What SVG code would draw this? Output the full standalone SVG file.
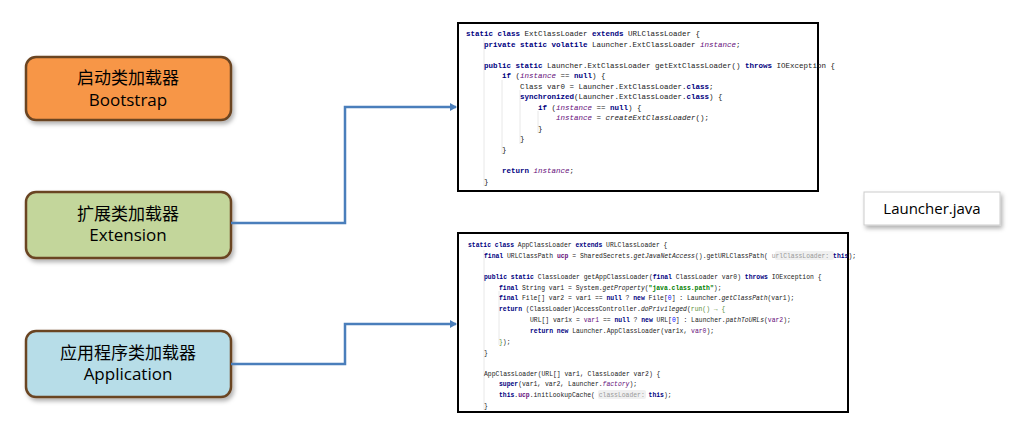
<svg xmlns="http://www.w3.org/2000/svg" width="1015" height="434" viewBox="0 0 1015 434">
<style>
.node{stroke:#6b4423;stroke-width:2.5}
.lbl{font-family:"Open Sans","Noto Sans CJK SC",sans-serif;font-size:17px;fill:#000;text-anchor:middle}
.code{font-family:"Liberation Mono",monospace;font-size:7.5px;fill:#222}
.code2{font-family:"Liberation Mono",monospace;font-size:6.4px;fill:#222}
.k{fill:#000080;font-weight:bold}
.i{fill:#660e7a;font-style:italic}
.s{fill:#008000;font-weight:bold}
.m{font-style:italic}
.h{fill:#999}
.conn{fill:none;stroke:#4a7ebb;stroke-width:2.5}
.box{fill:#fff;stroke:#000;stroke-width:2}
.guide{stroke:#e8e8e8;stroke-width:1}
</style>
<defs>
<marker id="arr" markerWidth="8" markerHeight="8" refX="6" refY="4" orient="auto" markerUnits="userSpaceOnUse"><path d="M0,0 L7,4 L0,8 z" fill="#4a7ebb"/></marker>
<filter id="sh" x="-10%" y="-10%" width="125%" height="135%"><feDropShadow dx="2" dy="3" stdDeviation="2" flood-color="#000" flood-opacity="0.3"/></filter>
</defs>
<rect width="1015" height="434" fill="#fff"/>
<g id="bootstrap"><rect class="node" x="26" y="57" width="205" height="63" rx="10" fill="#f79646" filter="url(#sh)"/><text class="lbl" x="128" y="84">启动类加载器</text><text class="lbl" x="128" y="106">Bootstrap</text></g>
<g id="extension"><rect class="node" x="26" y="192" width="205" height="66" rx="10" fill="#c3d69b" filter="url(#sh)"/><text class="lbl" x="128" y="220">扩展类加载器</text><text class="lbl" x="128" y="241">Extension</text></g>
<g id="application"><rect class="node" x="26" y="331" width="205" height="66" rx="10" fill="#b7dde8" filter="url(#sh)"/><text class="lbl" x="128" y="359">应用程序类加载器</text><text class="lbl" x="128" y="380">Application</text></g>
<g id="connectors">
<path class="conn" d="M231,223 H345 V107 H456" marker-end="url(#arr)"/>
<path class="conn" d="M231,364 H345 V324 H456" marker-end="url(#arr)"/>
</g>
<g id="ext-code">
<rect class="box" x="458" y="23" width="360" height="168"/>
<line class="guide" x1="484" y1="38" x2="484" y2="186"/><line class="guide" x1="502" y1="80" x2="502" y2="154"/><line class="guide" x1="520" y1="90" x2="520" y2="144"/><line class="guide" x1="538" y1="111" x2="538" y2="133"/>
<text class="code" x="466" y="36"><tspan class="k">static class </tspan>ExtClassLoader <tspan class="k">extends </tspan>URLClassLoader {</text>
<text class="code" x="484" y="47"><tspan class="k">private static volatile </tspan>Launcher.ExtClassLoader <tspan class="i">instance</tspan>;</text>
<text class="code" x="484" y="68"><tspan class="k">public static </tspan>Launcher.ExtClassLoader getExtClassLoader() <tspan class="k">throws </tspan>IOException {</text>
<text class="code" x="502" y="78"><tspan class="k">if </tspan>(<tspan class="i">instance </tspan>== <tspan class="k">null</tspan>) {</text>
<text class="code" x="520" y="89">Class var0 = Launcher.ExtClassLoader.<tspan class="k">class</tspan>;</text>
<text class="code" x="520" y="99"><tspan class="k">synchronized</tspan>(Launcher.ExtClassLoader.<tspan class="k">class</tspan>) {</text>
<text class="code" x="538" y="110"><tspan class="k">if </tspan>(<tspan class="i">instance </tspan>== <tspan class="k">null</tspan>) {</text>
<text class="code" x="556" y="120"><tspan class="i">instance </tspan>= <tspan class="m">createExtClassLoader</tspan>();</text>
<text class="code" x="538" y="131">}</text>
<text class="code" x="520" y="141">}</text>
<text class="code" x="502" y="152">}</text>
<text class="code" x="502" y="173"><tspan class="k">return </tspan><tspan class="i">instance</tspan>;</text>
<text class="code" x="484" y="184">}</text>
</g>
<g id="app-code">
<rect class="box" x="458" y="233" width="390" height="179"/>
<line class="guide" x1="484" y1="250" x2="484" y2="410"/><line class="guide" x1="499" y1="291" x2="499" y2="345"/>
<text class="code2" x="468" y="247"><tspan class="k">static class </tspan>AppClassLoader <tspan class="k">extends </tspan>URLClassLoader {</text>
<rect x="775" y="251" width="59" height="9" rx="2" fill="#f0f0f0"/>
<text class="code2" x="484" y="258"><tspan class="k">final </tspan>URLClassPath <tspan fill="#660e7a" font-weight="bold">ucp</tspan> = SharedSecrets.<tspan class="m">getJavaNetAccess</tspan>().getURLClassPath( <tspan class="h">urlClassLoader:</tspan> <tspan class="k">this</tspan>);</text>
<text class="code2" x="484" y="279"><tspan class="k">public static </tspan>ClassLoader getAppClassLoader(<tspan class="k">final </tspan>ClassLoader var0) <tspan class="k">throws </tspan>IOException {</text>
<text class="code2" x="499" y="290"><tspan class="k">final </tspan>String var1 = System.<tspan class="m">getProperty</tspan>(<tspan class="s">"java.class.path"</tspan>);</text>
<text class="code2" x="499" y="300"><tspan class="k">final </tspan>File[] var2 = var1 == <tspan class="k">null </tspan>? <tspan class="k">new </tspan>File[<tspan fill="#0000ff">0</tspan>] : Launcher.<tspan class="m">getClassPath</tspan>(var1);</text>
<text class="code2" x="499" y="311"><tspan class="k">return </tspan>(ClassLoader)AccessController.<tspan class="m">doPrivileged</tspan>(<tspan fill="#5a8f3a">run() → {</tspan></text>
<text class="code2" x="530" y="322">URL[] var1x = <tspan fill="#660e7a">var1</tspan> == <tspan class="k">null </tspan>? <tspan class="k">new </tspan>URL[<tspan fill="#0000ff">0</tspan>] : Launcher.<tspan class="m">pathToURLs</tspan>(<tspan fill="#660e7a">var2</tspan>);</text>
<text class="code2" x="530" y="333"><tspan class="k">return new </tspan>Launcher.AppClassLoader(var1x, <tspan fill="#660e7a">var0</tspan>);</text>
<text class="code2" x="499" y="344"><tspan fill="#5a8f3a">}</tspan>);</text>
<text class="code2" x="484" y="355">}</text>
<text class="code2" x="484" y="376">AppClassLoader(URL[] var1, ClassLoader var2) {</text>
<text class="code2" x="499" y="386"><tspan class="k">super</tspan>(var1, var2, Launcher.<tspan class="i">factory</tspan>);</text>
<rect x="598" y="390" width="48" height="9" rx="2" fill="#f0f0f0"/>
<text class="code2" x="499" y="397"><tspan class="k">this</tspan>.<tspan fill="#660e7a" font-weight="bold">ucp</tspan>.initLookupCache( <tspan class="h">classLoader:</tspan> <tspan class="k">this</tspan>);</text>
<text class="code2" x="484" y="408">}</text>
</g>
<g id="launcher"><rect x="864" y="192" width="136" height="33" fill="#fff" stroke="#ccc" filter="url(#sh)"/><text x="932" y="214" font-family="'Open Sans',sans-serif" font-size="15" text-anchor="middle">Launcher.java</text></g>
</svg>
